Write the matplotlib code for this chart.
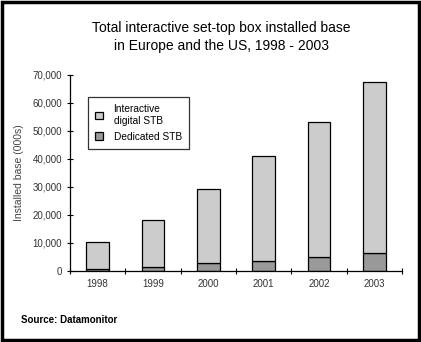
import matplotlib.pyplot as plt
from matplotlib.patches import Patch, Rectangle
from matplotlib.ticker import FuncFormatter

plt.rcParams["font.family"] = ["Liberation Sans", "DejaVu Sans"]

years = ["1998", "1999", "2000", "2001", "2002", "2003"]
dedicated = [800, 1300, 2700, 3700, 5000, 6500]
interactive = [9700, 16900, 26400, 37400, 48100, 60800]
y_ticks = [0, 10000, 20000, 30000, 40000, 50000, 60000, 70000]

fig = plt.figure(figsize=(4.21, 3.42), dpi=100)
ax = fig.add_axes([0.166, 0.2076, 0.789, 0.574])

x = range(len(years))
ax.bar(x, dedicated, width=0.41, color="#999999", edgecolor="black", linewidth=0.9)
ax.bar(x, interactive, bottom=dedicated, width=0.41, color="#cccccc",
       edgecolor="black", linewidth=0.9)

ax.set_xlim(-0.5, len(years) - 0.5)
ax.set_ylim(0, 70000)
ax.set_yticks(y_ticks)
ax.yaxis.set_major_formatter(FuncFormatter(lambda v, p: f"{int(v):,}"))
ax.set_xticks([i - 0.5 for i in range(len(years) + 1)])
ax.set_xticklabels([])
ax.set_xticks(list(x), minor=True)
ax.set_xticklabels(years, minor=True)
ax.tick_params(axis="x", which="major", direction="inout", length=5, width=0.8)
ax.tick_params(axis="x", which="minor", length=0, pad=6, labelsize=7, labelcolor="#333333")
ax.tick_params(axis="y", direction="inout", length=5, width=0.8, labelsize=7,
               labelcolor="#333333", pad=3)

for s in ["top", "right"]:
    ax.spines[s].set_visible(False)
ax.spines["left"].set_linewidth(0.9)
ax.spines["bottom"].set_linewidth(0.9)

ax.set_ylabel("Installed base (000s)", fontsize=7.5, color="#444444", labelpad=6)

handles = [Patch(facecolor="#cccccc", edgecolor="black", linewidth=0.9),
           Patch(facecolor="#999999", edgecolor="black", linewidth=0.9)]
leg = ax.legend(handles, ["Interactive\ndigital STB", "Dedicated STB"],
                loc="upper left", bbox_to_anchor=(0.04, 0.912), fontsize=7.3,
                frameon=True, fancybox=False, edgecolor="black", handlelength=0.8,
                handleheight=0.8, handletextpad=1.0, borderpad=0.7, labelspacing=0.6)
leg.get_frame().set_linewidth(0.9)

fig.text(0.525, 0.892, "Total interactive set-top box installed base\nin Europe and the US, 1998 - 2003",
         ha="center", va="center", fontsize=10, linespacing=1.3)
fig.text(0.05, 0.064, "Source: Datamonitor", fontsize=7, fontweight="bold", va="center")

fig.patches.append(Rectangle((0.005, 0.006), 0.99, 0.988, transform=fig.transFigure,
                             fill=False, edgecolor="black", linewidth=2.5))

fig.savefig("out.png", dpi=100)
